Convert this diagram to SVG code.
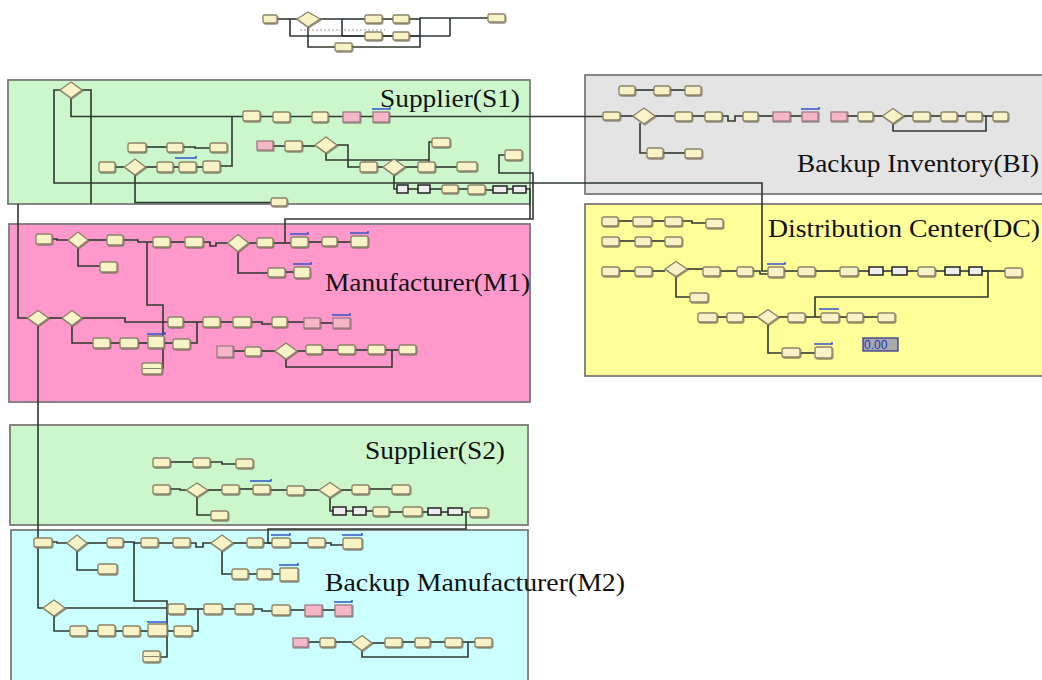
<svg xmlns="http://www.w3.org/2000/svg" width="1042" height="680" viewBox="0 0 1042 680">
<defs>
<filter id="sh" x="-20%" y="-20%" width="150%" height="160%">
<feDropShadow dx="0.8" dy="1" stdDeviation="0.4" flood-color="#6a6450" flood-opacity="0.7"/>
</filter>
</defs>
<style>
.reg{stroke:#7a7a7a;stroke-width:1.8}
.b{fill:#f8f3c6;stroke:#8c8468;stroke-width:1.3;filter:url(#sh)}
.p{fill:#f5b6c8;stroke:#9c7c84;stroke-width:1.3;filter:url(#sh)}
.k{fill:#eeeeee;stroke:#222;stroke-width:1.5}
.dm{fill:#f8f3c6;stroke:#8c8468;stroke-width:1.3;filter:url(#sh)}
.bar{fill:none;stroke:#3355cc;stroke-width:1.5}
.c path{fill:none;stroke:#2f382f;stroke-width:1.6}
.t{font-family:"Liberation Serif","Times New Roman",serif;font-size:26px;fill:#111}
</style>
<rect width="1042" height="680" fill="#ffffff"/>
<g id="regions">
<rect id="reg-s1" class="reg" x="8" y="80" width="522" height="124" fill="#ccf7cc"/>
<rect id="reg-m1" class="reg" x="9" y="224" width="521" height="178" fill="#ff99cc"/>
<rect id="reg-bi" class="reg" x="585" y="75" width="470" height="119" fill="#e4e4e4"/>
<rect id="reg-dc" class="reg" x="585" y="204" width="470" height="172" fill="#ffff99"/>
<rect id="reg-s2" class="reg" x="10" y="425" width="518" height="100" fill="#ccf7cc"/>
<rect id="reg-m2" class="reg" x="11" y="530" width="517" height="160" fill="#ccffff"/>
</g>
<g id="connectors" class="c">
<path d="M277,19 H297"/><path d="M290,19 V36 H450"/><path d="M320,19 H342 V36"/>
<path d="M342,19 H365"/><path d="M382,19 H393"/><path d="M409,19 H420"/>
<path d="M342,36 H365"/><path d="M382,36 H393"/><path d="M409,36 H420"/>
<path d="M308,27 V47 H335"/><path d="M352,47 H420 V18 H488"/><path d="M450,18 V36"/>
<path d="M300,30 H385" style="stroke:#999;stroke-dasharray:2 2;stroke-width:1"/>
<path d="M60,90 H54 V183 H762 V271 H768"/>
<path d="M82,90 H91 V204"/>
<path d="M71,98 V116.5 H603"/>
<path d="M220,166 H232 V116.5"/>
<path d="M146,147 H167"/><path d="M183,147 H195 V148 H210"/>
<path d="M115,167 H124"/><path d="M146,167 H157"/><path d="M173,167 H179"/><path d="M196,167 H203"/>
<path d="M135,175 V202.5 H271"/>
<path d="M273,146 H285"/><path d="M302,146 H315"/><path d="M337,145 H348 V167 H360"/>
<path d="M326,153 V160 H429"/><path d="M432,142 H429 V162"/>
<path d="M377,167 H383"/><path d="M405,167 H418"/><path d="M435,167 H457"/>
<path d="M394,175 V189 H397"/>
<path d="M408,189 H418"/><path d="M430,189 H442"/><path d="M458,189 H468"/><path d="M485,190 H493"/><path d="M507,189 H513"/>
<path d="M526,189 H530 V219"/>
<path d="M505,155 H499 V173 H533 V219 H285 V242"/>
<path d="M635,90 H654"/><path d="M670,90 H685"/>
<path d="M620,116 H633"/><path d="M655,116 H675"/><path d="M692,116 H705"/><path d="M722,116 H728 V121 H735 V116 H743"/>
<path d="M758,116 H773"/><path d="M790,116 H802"/><path d="M847,116 H858"/><path d="M873,116 H882.5"/>
<path d="M903.5,116 H913"/><path d="M930,116 H941"/><path d="M957,116 H966"/><path d="M982,116 H993"/>
<path d="M640,123 V153 H647"/><path d="M663,153 H685"/>
<path d="M893,123.5 V131 H986 V116"/>
<path d="M618,221 H633"/><path d="M652,221 H665"/><path d="M682,221 H692 V223 H706"/>
<path d="M619,241 H635"/><path d="M651,241 H665"/>
<path d="M619,271 H635"/><path d="M652,271 H665"/><path d="M687,269 H703"/><path d="M720,271 H737"/>
<path d="M753,271 H760 V274 H768"/><path d="M784,271 H798"/><path d="M815,271 H840"/><path d="M858,271 H869"/>
<path d="M883,271 H892"/><path d="M907,271 H918"/><path d="M935,271 H945"/><path d="M960,271 H969"/><path d="M982,271 H1005"/>
<path d="M676,276.5 V297 H690"/>
<path d="M982,271 H988 V297 H815 V317"/>
<path d="M717,317 H727"/><path d="M743,317 H757.5"/><path d="M778.5,317 H788"/><path d="M805,317 H821"/><path d="M839,317 H847"/><path d="M863,317 H878"/>
<path d="M768,324.5 V353 H782"/><path d="M800,353 H815"/>
<path d="M52,239 H57 V240 H68"/><path d="M88,240 H107"/><path d="M123,240 H138 V242 H153"/>
<path d="M147,242 V305 H163 V368 H162"/>
<path d="M170,242 H185"/><path d="M203,242 H210 V246 H216 V243 H227.5"/>
<path d="M248.5,243 H257"/><path d="M273,243 H291"/><path d="M308,242 H322"/><path d="M337,242 H351"/>
<path d="M78,248 V266 H100"/>
<path d="M238,251.5 V273 H268"/><path d="M285,272 H294"/>
<path d="M18,204 V318 H27.5"/>
<path d="M48.5,318 H62"/><path d="M82,318 H125 V322 H168"/>
<path d="M183,322 H203"/><path d="M220,322 H233"/><path d="M251,322 H262 V324 H272"/><path d="M287,322 H304"/><path d="M320,323 H333"/>
<path d="M72,325.5 V343 H93"/><path d="M110,343 H120"/><path d="M138,343 H148"/><path d="M164,343 H173"/><path d="M190,343 H197 V322"/>
<path d="M233,351 H245"/><path d="M261,351 H275"/><path d="M297,351 H306"/><path d="M322,350 H338"/><path d="M355,350 H368"/><path d="M385,350 H399"/>
<path d="M286,359 V367 H392 V350"/>
<path d="M38,325.5 V608 H43"/>
<path d="M170,462 H193"/><path d="M210,462 H222 V464 H236"/>
<path d="M170,489 H180 V490 H186.5"/><path d="M207.5,490 H222"/><path d="M239,489 H253"/><path d="M270,490 H287"/>
<path d="M304,490 H319"/><path d="M341,490 H352"/><path d="M369,489 H392"/>
<path d="M197,497 V515 H211"/>
<path d="M330,497.5 V511 H333"/><path d="M346,511 H353"/><path d="M366,511 H373"/><path d="M389,512 H403"/>
<path d="M422,512 H428"/><path d="M441,512 H448"/><path d="M462,512 H470"/>
<path d="M466,512 V529 H268 V543 H272"/>
<path d="M52,542 H57 V543 H67"/><path d="M87,543 H107"/><path d="M123,542 H134 V543 H141"/><path d="M158,543 H173"/>
<path d="M190,543 H196 V547 H203 V543 H211"/><path d="M233,543 H247"/><path d="M263,543 H272"/><path d="M290,543 H308"/><path d="M325,543 H331 V545 H343"/>
<path d="M77,551 V570 H98"/>
<path d="M222,551 V574 H232"/><path d="M248,574 H257"/><path d="M272,574 H280"/>
<path d="M134,543 V601 H167 V657 H160"/>
<path d="M65,608 H168"/><path d="M185,609 H204"/><path d="M222,609 H235"/><path d="M253,609 H262 V611 H272"/>
<path d="M290,610 H305"/><path d="M322,610 H335"/>
<path d="M54,616 V631 H70"/><path d="M87,631 H98"/><path d="M115,631 H123"/><path d="M140,631 H148"/><path d="M167,631 H174"/><path d="M192,631 H198 V609"/>
<path d="M308,642 H320"/><path d="M335,642 H352"/><path d="M372,643 H385"/><path d="M402,642 H415"/><path d="M430,642 H445"/><path d="M462,642 H475"/>
<path d="M362,650.5 V657 H468 V642"/>
</g>
<g id="top-map">
<g id="t1"><rect class="b" x="263" y="15" width="14" height="8" rx="1.5"/></g>
<g id="t2"><polygon class="dm" points="297,19 308,12 320,19 308,27"/></g>
<g id="t3"><rect class="b" x="365" y="15" width="17" height="8" rx="1.5"/></g>
<g id="t4"><rect class="b" x="393" y="15" width="16" height="8" rx="1.5"/></g>
<g id="t5"><rect class="b" x="365" y="32" width="17" height="8" rx="1.5"/></g>
<g id="t6"><rect class="b" x="393" y="32" width="16" height="8" rx="1.5"/></g>
<g id="t7"><rect class="b" x="335" y="43" width="17" height="8" rx="1.5"/></g>
<g id="t8"><rect class="b" x="488" y="14" width="17" height="8" rx="1.5"/></g>
</g>
<g id="s1-nodes">
<g id="s1d1"><polygon class="dm" points="60,90 71,82 82,90 71,98"/></g>
<g id="s1b1"><rect class="b" x="243" y="111" width="17" height="10" rx="2"/></g>
<g id="s1b2"><rect class="b" x="273" y="112" width="17" height="10" rx="2"/></g>
<g id="s1b3"><rect class="b" x="312" y="112" width="16" height="10" rx="2"/></g>
<g id="s1p1"><rect class="p" x="343" y="112" width="17" height="10"/></g>
<g id="s1p2"><rect class="p" x="373" y="112" width="16" height="10"/><path class="bar" d="M372,109 H390 V107"/></g>
<g id="s1b4"><rect class="b" x="128" y="143" width="18" height="9" rx="2"/></g>
<g id="s1b5"><rect class="b" x="167" y="143" width="16" height="9" rx="2"/></g>
<g id="s1b6"><rect class="b" x="210" y="143" width="17" height="9" rx="2"/></g>
<g id="s1p3"><rect class="p" x="257" y="141" width="16" height="9"/></g>
<g id="s1b7"><rect class="b" x="285" y="141" width="17" height="10" rx="2"/></g>
<g id="s1d2"><polygon class="dm" points="315,145 326,137 337,145 326,153"/></g>
<g id="s1b8"><rect class="b" x="432" y="138" width="18" height="9" rx="2"/></g>
<g id="s1b9"><rect class="b" x="99" y="162" width="16" height="10" rx="2"/></g>
<g id="s1d3"><polygon class="dm" points="124.5,167 135,159 145.5,167 135,175"/></g>
<g id="s1b10"><rect class="b" x="157" y="162" width="16" height="10" rx="2"/></g>
<g id="s1b11"><rect class="b" x="179" y="162" width="17" height="10" rx="2"/><path class="bar" d="M175,158 H196 V156"/></g>
<g id="s1b12"><rect class="b" x="203" y="161" width="17" height="11" rx="2"/></g>
<g id="s1b13"><rect class="b" x="360" y="162" width="17" height="10" rx="2"/></g>
<g id="s1d4"><polygon class="dm" points="383,167 394,159 405,167 394,175"/></g>
<g id="s1b14"><rect class="b" x="418" y="162" width="17" height="10" rx="2"/></g>
<g id="s1b15"><rect class="b" x="457" y="162" width="20" height="9" rx="2"/></g>
<g id="s1b16"><rect class="b" x="505" y="150" width="17" height="10" rx="2"/></g>
<g id="s1k1"><rect class="k" x="397" y="185" width="11" height="8"/></g>
<g id="s1k2"><rect class="k" x="418" y="185" width="12" height="8"/></g>
<g id="s1b17"><rect class="b" x="442" y="185" width="16" height="8" rx="2"/></g>
<g id="s1b18"><rect class="b" x="468" y="185" width="17" height="9" rx="2"/></g>
<g id="s1k3"><rect class="k" x="493" y="186" width="14" height="7"/></g>
<g id="s1k4"><rect class="k" x="513" y="186" width="13" height="7"/></g>
<g id="s1b19"><rect class="b" x="271" y="198" width="16" height="8" rx="2"/></g>
</g>
<g id="bi-nodes">
<g id="bi1"><rect class="b" x="619" y="86" width="16" height="9" rx="2"/></g>
<g id="bi2"><rect class="b" x="654" y="86" width="16" height="9" rx="2"/></g>
<g id="bi3"><rect class="b" x="685" y="86" width="16" height="9" rx="2"/></g>
<g id="bi4"><rect class="b" x="603" y="112" width="17" height="8" rx="2"/></g>
<g id="bid1"><polygon class="dm" points="633,116 644,108 655,116 644,124"/></g>
<g id="bi5"><rect class="b" x="675" y="112" width="17" height="9" rx="2"/></g>
<g id="bi6"><rect class="b" x="705" y="112" width="17" height="9" rx="2"/></g>
<g id="bi7"><rect class="b" x="743" y="112" width="15" height="9" rx="2"/></g>
<g id="bip1"><rect class="p" x="773" y="112" width="17" height="9"/></g>
<g id="bip2"><rect class="p" x="802" y="112" width="16" height="9"/><path class="bar" d="M801,109 H819 V107"/></g>
<g id="bip3"><rect class="p" x="831" y="112" width="16" height="9"/></g>
<g id="bi8"><rect class="b" x="858" y="112" width="15" height="9" rx="2"/></g>
<g id="bid2"><polygon class="dm" points="882.5,116 893,108.5 903.5,116 893,123.5"/></g>
<g id="bi9"><rect class="b" x="913" y="112" width="17" height="9" rx="2"/></g>
<g id="bi10"><rect class="b" x="941" y="112" width="16" height="9" rx="2"/></g>
<g id="bi11"><rect class="b" x="966" y="112" width="16" height="9" rx="2"/></g>
<g id="bi12"><rect class="b" x="993" y="112" width="15" height="9" rx="2"/></g>
<g id="bi13"><rect class="b" x="647" y="148" width="16" height="10" rx="2"/></g>
<g id="bi14"><rect class="b" x="685" y="149" width="17" height="9" rx="2"/></g>
</g>
<g id="dc-nodes">
<g id="dc1"><rect class="b" x="602" y="217" width="16" height="9" rx="2"/></g>
<g id="dc2"><rect class="b" x="633" y="217" width="19" height="9" rx="2"/></g>
<g id="dc3"><rect class="b" x="665" y="217" width="17" height="9" rx="2"/></g>
<g id="dc4"><rect class="b" x="706" y="219" width="17" height="9" rx="2"/></g>
<g id="dc5"><rect class="b" x="602" y="237" width="17" height="9" rx="2"/></g>
<g id="dc6"><rect class="b" x="635" y="237" width="16" height="9" rx="2"/></g>
<g id="dc7"><rect class="b" x="665" y="237" width="17" height="9" rx="2"/></g>
<g id="dc8"><rect class="b" x="602" y="267" width="17" height="9" rx="2"/></g>
<g id="dc9"><rect class="b" x="635" y="267" width="17" height="9" rx="2"/></g>
<g id="dcd1"><polygon class="dm" points="665,269 676,261.5 687,269 676,276.5"/></g>
<g id="dc10"><rect class="b" x="703" y="267" width="17" height="9" rx="2"/></g>
<g id="dc11"><rect class="b" x="737" y="267" width="16" height="9" rx="2"/></g>
<g id="dc12"><rect class="b" x="768" y="267" width="16" height="10" rx="2"/><path class="bar" d="M767,264 H785 V262"/></g>
<g id="dc13"><rect class="b" x="798" y="267" width="17" height="9" rx="2"/></g>
<g id="dc14"><rect class="b" x="840" y="267" width="18" height="9" rx="2"/></g>
<g id="dck1"><rect class="k" x="869" y="267" width="14" height="8"/></g>
<g id="dck2"><rect class="k" x="892" y="267" width="15" height="8"/></g>
<g id="dc15"><rect class="b" x="918" y="267" width="17" height="9" rx="2"/></g>
<g id="dck3"><rect class="k" x="945" y="267" width="15" height="8"/></g>
<g id="dck4"><rect class="k" x="969" y="267" width="13" height="8"/></g>
<g id="dc16"><rect class="b" x="1005" y="268" width="17" height="9" rx="2"/></g>
<g id="dc17"><rect class="b" x="690" y="293" width="18" height="9" rx="2"/></g>
<g id="dc18"><rect class="b" x="698" y="313" width="19" height="9" rx="2"/></g>
<g id="dc19"><rect class="b" x="727" y="313" width="16" height="9" rx="2"/></g>
<g id="dcd2"><polygon class="dm" points="757.5,317 768,309.5 778.5,317 768,324.5"/></g>
<g id="dc20"><rect class="b" x="788" y="313" width="17" height="9" rx="2"/></g>
<g id="dc21"><rect class="b" x="821" y="313" width="18" height="9" rx="2"/><path class="bar" d="M819,309 H839"/></g>
<g id="dc22"><rect class="b" x="847" y="313" width="16" height="9" rx="2"/></g>
<g id="dc23"><rect class="b" x="878" y="313" width="17" height="9" rx="2"/></g>
<g id="dc24"><rect class="b" x="782" y="348" width="18" height="9" rx="2"/></g>
<g id="dc25"><rect class="b" x="815" y="347" width="17" height="11" rx="2"/><path class="bar" d="M814,344 H832 V342"/></g>
<g id="dc-value"><rect x="863" y="338" width="35" height="13" fill="#a9a9a9" stroke="#2a2a8c" stroke-width="1.2"/><text x="864" y="349" font-family="Liberation Sans, Arial, sans-serif" font-size="12" fill="#2233cc">0.00</text></g>
</g>
<g id="m1-nodes">
<g id="m1b1"><rect class="b" x="36" y="234" width="16" height="10" rx="2"/></g>
<g id="m1d1"><polygon class="dm" points="68,240 78,232 88,240 78,248"/></g>
<g id="m1b2"><rect class="b" x="107" y="235" width="16" height="10" rx="2"/></g>
<g id="m1b3"><rect class="b" x="153" y="237" width="17" height="10" rx="2"/></g>
<g id="m1b4"><rect class="b" x="185" y="237" width="18" height="10" rx="2"/></g>
<g id="m1d2"><polygon class="dm" points="227.5,243 238,234.5 248.5,243 238,251.5"/></g>
<g id="m1b5"><rect class="b" x="257" y="238" width="16" height="9" rx="2"/></g>
<g id="m1b6"><rect class="b" x="291" y="237" width="17" height="10" rx="2"/><path class="bar" d="M290,234 H308 V232"/></g>
<g id="m1b7"><rect class="b" x="322" y="237" width="15" height="9" rx="2"/></g>
<g id="m1b8"><rect class="b" x="351" y="236" width="17" height="11" rx="2"/><path class="bar" d="M350,233 H368 V231"/></g>
<g id="m1b9"><rect class="b" x="100" y="262" width="17" height="10" rx="2"/></g>
<g id="m1b10"><rect class="b" x="268" y="268" width="17" height="9" rx="2"/></g>
<g id="m1b11"><rect class="b" x="294" y="267" width="16" height="11" rx="2"/><path class="bar" d="M293,264 H311 V262"/></g>
<g id="m1d3"><polygon class="dm" points="27.5,318 38,310.5 48.5,318 38,325.5"/></g>
<g id="m1d4"><polygon class="dm" points="62,318 72,310.5 82,318 72,325.5"/></g>
<g id="m1b12"><rect class="b" x="168" y="317" width="15" height="10" rx="2"/></g>
<g id="m1b13"><rect class="b" x="203" y="317" width="17" height="10" rx="2"/></g>
<g id="m1b14"><rect class="b" x="233" y="317" width="18" height="10" rx="2"/></g>
<g id="m1b15"><rect class="b" x="272" y="317" width="15" height="10" rx="2"/></g>
<g id="m1p1"><rect class="p" x="304" y="318" width="16" height="10"/></g>
<g id="m1p2"><rect class="p" x="333" y="318" width="17" height="10"/><path class="bar" d="M332,315 H350 V313"/></g>
<g id="m1b16"><rect class="b" x="93" y="338" width="17" height="10" rx="2"/></g>
<g id="m1b17"><rect class="b" x="120" y="338" width="18" height="10" rx="2"/></g>
<g id="m1b18"><rect class="b" x="148" y="336" width="16" height="12" rx="1"/><path class="bar" d="M147,334 H165 V332"/></g>
<g id="m1b19"><rect class="b" x="173" y="339" width="17" height="10" rx="2"/></g>
<g id="m1b20"><rect class="b" x="142" y="363" width="20" height="11" rx="2"/><path d="M143,368.5 H161" stroke="#8c8468" stroke-width="1"/></g>
<g id="m1p3"><rect class="p" x="217" y="346" width="16" height="11"/></g>
<g id="m1b21"><rect class="b" x="245" y="347" width="16" height="9" rx="2"/></g>
<g id="m1d5"><polygon class="dm" points="275,351 286,343 297,351 286,359"/></g>
<g id="m1b22"><rect class="b" x="306" y="345" width="16" height="9" rx="2"/></g>
<g id="m1b23"><rect class="b" x="338" y="345" width="17" height="9" rx="2"/></g>
<g id="m1b24"><rect class="b" x="368" y="345" width="17" height="9" rx="2"/></g>
<g id="m1b25"><rect class="b" x="399" y="345" width="17" height="9" rx="2"/></g>
</g>
<g id="s2-nodes">
<g id="s2b1"><rect class="b" x="153" y="458" width="17" height="9" rx="2"/></g>
<g id="s2b2"><rect class="b" x="193" y="458" width="17" height="9" rx="2"/></g>
<g id="s2b3"><rect class="b" x="236" y="459" width="17" height="9" rx="2"/></g>
<g id="s2b4"><rect class="b" x="153" y="485" width="17" height="9" rx="2"/></g>
<g id="s2d1"><polygon class="dm" points="186.5,490 197,483 207.5,490 197,497"/></g>
<g id="s2b5"><rect class="b" x="222" y="485" width="17" height="9" rx="2"/></g>
<g id="s2b6"><rect class="b" x="253" y="485" width="17" height="9" rx="2"/><path class="bar" d="M250,481 H271 V479"/></g>
<g id="s2b7"><rect class="b" x="287" y="486" width="17" height="9" rx="2"/></g>
<g id="s2d2"><polygon class="dm" points="319,490 330,482.5 341,490 330,497.5"/></g>
<g id="s2b8"><rect class="b" x="352" y="485" width="17" height="9" rx="2"/></g>
<g id="s2b9"><rect class="b" x="392" y="485" width="18" height="9" rx="2"/></g>
<g id="s2b10"><rect class="b" x="211" y="511" width="17" height="9" rx="2"/></g>
<g id="s2k1"><rect class="k" x="333" y="507" width="13" height="8"/></g>
<g id="s2k2"><rect class="k" x="353" y="507" width="13" height="8"/></g>
<g id="s2b11"><rect class="b" x="373" y="507" width="16" height="9" rx="2"/></g>
<g id="s2b12"><rect class="b" x="403" y="507" width="19" height="9" rx="2"/></g>
<g id="s2k3"><rect class="k" x="428" y="508" width="13" height="7"/></g>
<g id="s2k4"><rect class="k" x="448" y="508" width="14" height="7"/></g>
<g id="s2b13"><rect class="b" x="470" y="508" width="18" height="9" rx="2"/></g>
</g>
<g id="m2-nodes">
<g id="m2b1"><rect class="b" x="34" y="538" width="18" height="9" rx="2"/></g>
<g id="m2d1"><polygon class="dm" points="67,543 77,535 87,543 77,551"/></g>
<g id="m2b2"><rect class="b" x="107" y="538" width="16" height="9" rx="2"/></g>
<g id="m2b3"><rect class="b" x="141" y="538" width="17" height="9" rx="2"/></g>
<g id="m2b4"><rect class="b" x="173" y="538" width="17" height="9" rx="2"/></g>
<g id="m2d2"><polygon class="dm" points="211,543 222,535 233,543 222,551"/></g>
<g id="m2b5"><rect class="b" x="247" y="538" width="16" height="9" rx="2"/></g>
<g id="m2b6"><rect class="b" x="272" y="538" width="18" height="9" rx="2"/><path class="bar" d="M271,535 H290 V533"/></g>
<g id="m2b7"><rect class="b" x="308" y="538" width="17" height="9" rx="2"/></g>
<g id="m2b8"><rect class="b" x="343" y="538" width="19" height="11" rx="2"/><path class="bar" d="M342,535 H362 V533"/></g>
<g id="m2b9"><rect class="b" x="98" y="564" width="19" height="10" rx="2"/></g>
<g id="m2b10"><rect class="b" x="232" y="569" width="16" height="10" rx="2"/></g>
<g id="m2b11"><rect class="b" x="257" y="569" width="15" height="10" rx="2"/></g>
<g id="m2b12"><rect class="b" x="280" y="568" width="18" height="13" rx="1"/><path class="bar" d="M279,565 H298 V563"/></g>
<g id="m2d3"><polygon class="dm" points="43,608 54,600 65,608 54,616"/></g>
<g id="m2b13"><rect class="b" x="168" y="604" width="17" height="10" rx="2"/></g>
<g id="m2b14"><rect class="b" x="204" y="604" width="18" height="10" rx="2"/></g>
<g id="m2b15"><rect class="b" x="235" y="604" width="18" height="10" rx="2"/></g>
<g id="m2b16"><rect class="b" x="272" y="605" width="18" height="10" rx="2"/></g>
<g id="m2p1"><rect class="p" x="305" y="605" width="17" height="11"/></g>
<g id="m2p2"><rect class="p" x="335" y="605" width="17" height="11"/><path class="bar" d="M334,602 H352 V600"/></g>
<g id="m2b17"><rect class="b" x="70" y="626" width="17" height="10" rx="2"/></g>
<g id="m2b18"><rect class="b" x="98" y="625" width="17" height="11" rx="2"/></g>
<g id="m2b19"><rect class="b" x="123" y="626" width="17" height="10" rx="2"/></g>
<g id="m2b20"><rect class="b" x="148" y="624" width="19" height="12" rx="1"/><path class="bar" d="M147,622 H167 V620"/></g>
<g id="m2b21"><rect class="b" x="174" y="626" width="18" height="10" rx="2"/></g>
<g id="m2b22"><rect class="b" x="143" y="651" width="17" height="11" rx="2"/><path d="M144,656.5 H159" stroke="#8c8468" stroke-width="1"/></g>
<g id="m2p3"><rect class="p" x="293" y="638" width="15" height="9"/></g>
<g id="m2b23"><rect class="b" x="320" y="638" width="15" height="9" rx="2"/></g>
<g id="m2d4"><polygon class="dm" points="352,643 362,635.5 372,643 362,650.5"/></g>
<g id="m2b24"><rect class="b" x="385" y="638" width="17" height="9" rx="2"/></g>
<g id="m2b25"><rect class="b" x="415" y="638" width="15" height="9" rx="2"/></g>
<g id="m2b26"><rect class="b" x="445" y="638" width="17" height="9" rx="2"/></g>
<g id="m2b27"><rect class="b" x="475" y="638" width="17" height="9" rx="2"/></g>
</g>
<g id="titles">
<text class="t" x="380" y="107" textLength="140" lengthAdjust="spacingAndGlyphs">Supplier(S1)</text>
<text class="t" x="797" y="172" textLength="242" lengthAdjust="spacingAndGlyphs">Backup Inventory(BI)</text>
<text class="t" x="768" y="237" textLength="272" lengthAdjust="spacingAndGlyphs">Distribution Center(DC)</text>
<text class="t" x="325" y="291" textLength="205" lengthAdjust="spacingAndGlyphs">Manufacturer(M1)</text>
<text class="t" x="365" y="459" textLength="140" lengthAdjust="spacingAndGlyphs">Supplier(S2)</text>
<text class="t" x="325" y="591" textLength="300" lengthAdjust="spacingAndGlyphs">Backup Manufacturer(M2)</text>
</g>
</svg>
